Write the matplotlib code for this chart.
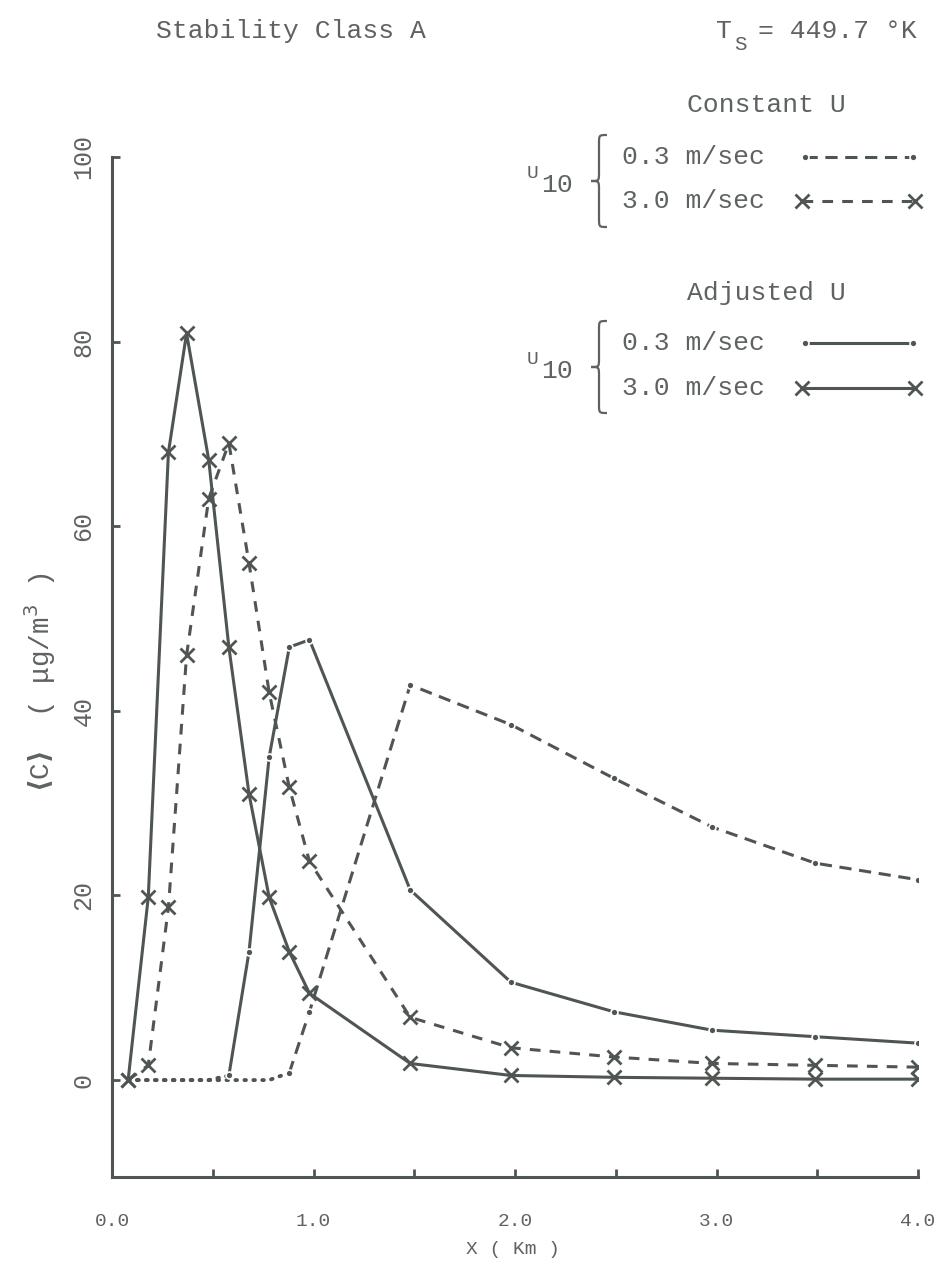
import numpy as np
import matplotlib.pyplot as plt
from matplotlib.path import Path
from matplotlib.patches import PathPatch

# downwind distance (km), shared by all four runs
x_km = [0.08, 0.18, 0.28, 0.37, 0.48, 0.58, 0.68, 0.78, 0.88, 0.98,
        1.48, 1.98, 2.49, 2.98, 3.49, 4.0]

# <C> in ug/m^3
const_u03 = [0, 0, 0, 0, 0, 0, 0, 0, 0.8, 7.4, 42.8, 38.5, 32.7, 27.4, 23.5, 21.7]
const_u30 = [0, 1.6, 18.7, 46, 63, 69, 56, 42, 31.7, 23.7, 6.8, 3.5, 2.5, 1.8, 1.6, 1.4]
adj_u03 = [0, 0, 0, 0, 0, 0.5, 13.9, 35, 46.9, 47.7, 20.6, 10.6, 7.4, 5.4, 4.7, 4.0]
adj_u30 = [0, 19.8, 68, 80.9, 67.2, 46.9, 31, 19.8, 13.9, 9.4, 1.8, 0.5, 0.3, 0.2, 0.1, 0.1]

x_ticks = [0, 1, 2, 3, 4]
x_tick_labels = ['0.0', '1.0', '2.0', '3.0', '4.0']
y_ticks = [0, 20, 40, 60, 80, 100]

INK = '#4f5651'
TXT = '#5e6360'
MONO = ['Liberation Mono', 'DejaVu Sans Mono']
LW = 2.2

W, H = 948, 1265
fig = plt.figure(figsize=(W / 100, H / 100), dpi=100)
fig.patch.set_facecolor('white')

ax = fig.add_axes([112 / W, 88 / H, 806 / W, 1020 / H])
ax.set_xlim(0, 4.0)
ax.set_ylim(-10.5, 100)
for s in ['top', 'right']:
    ax.spines[s].set_visible(False)
for s in ['left', 'bottom']:
    ax.spines[s].set_linewidth(LW)
    ax.spines[s].set_color(INK)

ax.set_xticks(x_ticks)
ax.set_xticklabels(x_tick_labels, family=MONO, size=14, color=TXT)
ax.set_xticks(np.arange(0.5, 4.0, 1.0), minor=True)
ax.set_yticks(y_ticks)
ax.set_yticklabels([str(v) for v in y_ticks], family=MONO, size=18,
                   color=TXT, rotation=90, va='center')
ax.tick_params(axis='x', which='both', direction='in', length=6, width=2,
               color=INK, pad=26)
ax.tick_params(axis='y', direction='in', length=6, width=2, color=INK, pad=12)

dotted = (0, (0.4, 1.9))
dash_dot = (0, (4, 2.5))
dashed = (0, (3.5, 3))


def lead_zeros(vals):
    n = 0
    while n < len(vals) and vals[n] == 0:
        n += 1
    return n


# the 0.3 m/sec runs sit on zero for the first stations; plotted dotted there
for vals, style in [(const_u03, dash_dot), (adj_u03, '-')]:
    k = lead_zeros(vals)
    ax.plot(x_km[:k + 1], vals[:k + 1], color=INK, lw=2.8, ls=dotted,
            dash_capstyle='round', zorder=2)
    ax.plot(x_km[k:], vals[k:], color=INK, lw=LW, ls=style, zorder=2)
    ax.plot(x_km[k:], vals[k:], 'o', ms=5, mfc=INK, mec='white', mew=1.2,
            zorder=3)

ax.plot(x_km, const_u30, color=INK, lw=LW, ls=dashed, zorder=2)
ax.plot(x_km, adj_u30, color=INK, lw=LW, ls='-', zorder=2)
for vals in [const_u30, adj_u30]:
    ax.plot(x_km, vals, 'x', ms=10, mew=2, color=INK, zorder=4)

# annotation layer in page pixels
ov = fig.add_axes([0, 0, 1, 1], zorder=5)
ov.set_xlim(0, W)
ov.set_ylim(H, 0)
ov.axis('off')
ov.patch.set_alpha(0)

txt = dict(family=MONO, color=TXT, va='center')
ov.text(291, 31, 'Stability Class A', ha='center', size=19, **txt)
ov.text(724, 31, 'T', ha='center', size=19, **txt)
ov.text(740, 45, 'S', ha='center', size=15, **txt)
ov.text(758, 31, '= 449.7 °K', ha='left', size=19, **txt)

ov.text(513, 1250, 'X ( Km )', ha='center', size=14, **txt)
ov.text(40, 682, r'$\mathbf{\langle}$C$\mathbf{\rangle}$  ( μg/m$^{3}$ )',
        ha='center', rotation=90, size=20, **txt)


def brace(x_tip, x_mid, x_end, y_top, y_bot, d=9):
    yc = (y_top + y_bot) / 2
    verts = [(x_end, y_top), (x_mid, y_top), (x_mid, y_top), (x_mid, y_top + d),
             (x_mid, yc - d),
             (x_mid, yc), (x_mid, yc), (x_tip, yc),
             (x_mid, yc), (x_mid, yc), (x_mid, yc + d),
             (x_mid, y_bot - d),
             (x_mid, y_bot), (x_mid, y_bot), (x_end, y_bot)]
    codes = [Path.MOVETO, Path.CURVE4, Path.CURVE4, Path.CURVE4, Path.LINETO,
             Path.CURVE4, Path.CURVE4, Path.CURVE4,
             Path.CURVE4, Path.CURVE4, Path.CURVE4, Path.LINETO,
             Path.CURVE4, Path.CURVE4, Path.CURVE4]
    ov.add_patch(PathPatch(Path(verts, codes), fill=False, ec=TXT, lw=1.6))


groups = [
    ('Constant U', 105, 157, 201, 135, 227,
     dict(ls=dash_dot), dict(ls=dashed)),
    ('Adjusted U', 293, 343, 388, 321, 413,
     dict(ls='-'), dict(ls='-')),
]
for title, y_t, y1, y2, b_top, b_bot, st1, st2 in groups:
    ov.text(766, y_t, title, ha='center', size=19, **txt)
    ov.text(533, (y1 + y2) / 2 - 6, 'U', ha='center', size=14, **txt)
    ov.text(557, (y1 + y2) / 2 + 6, '10', ha='center', size=19, **txt)
    brace(591, 599, 607, b_top, b_bot)
    ov.text(622, y1, '0.3 m/sec', ha='left', size=19, **txt)
    ov.text(622, y2, '3.0 m/sec', ha='left', size=19, **txt)
    ov.plot([805, 913], [y1, y1], color=INK, lw=LW, **st1)
    ov.plot([805, 913], [y1, y1], 'o', ms=5, mfc=INK, mec='white', mew=1.2)
    ov.plot([802, 915], [y2, y2], color=INK, lw=LW, **st2)
    ov.plot([802, 915], [y2, y2], 'x', ms=10, mew=2, color=INK)

fig.savefig('out.png', dpi=100, facecolor='white')
